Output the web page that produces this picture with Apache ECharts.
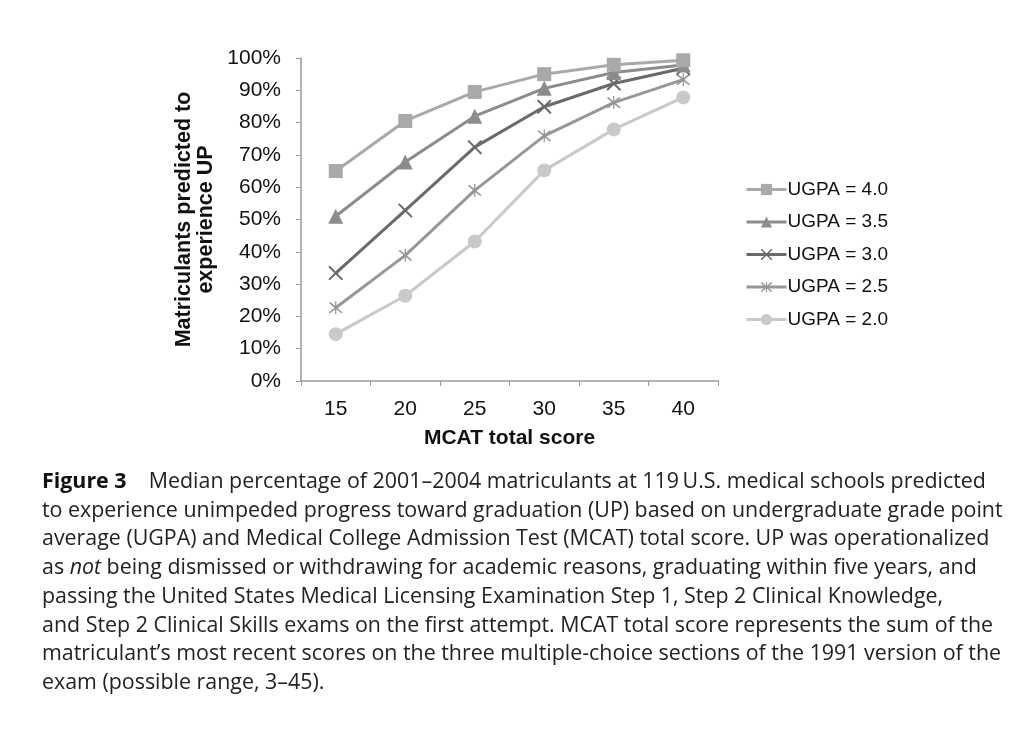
<!DOCTYPE html>
<html><head><meta charset="utf-8">
<script src="https://cdn.jsdelivr.net/npm/echarts@6/dist/echarts.min.js"></script>
<style>html,body{margin:0;padding:0;background:#fff}#c{width:1024px;height:744px}</style>
</head><body><div id="c"></div>
<script>
const categories = ['15', '20', '25', '30', '35', '40'];
const seriesNames = ['UGPA = 4.0', 'UGPA = 3.5', 'UGPA = 3.0', 'UGPA = 2.5', 'UGPA = 2.0'];
const ugpa40 = [65.0, 80.5, 89.5, 95.0, 97.9, 99.3];
const ugpa35 = [51.0, 67.8, 82.0, 90.6, 95.5, 97.8];
const ugpa30 = [33.4, 52.8, 72.4, 84.9, 92.1, 96.8];
const ugpa25 = [22.7, 38.9, 59.0, 75.9, 86.2, 93.3];
const ugpa20 = [14.5, 26.4, 43.2, 65.2, 77.9, 87.8];
const captionLines = [
  '{b|Figure 3}    Median percentage of 2001\u20132004 matriculants at 119\u2009U.S. medical schools predicted',
  'to experience unimpeded progress toward graduation (UP) based on undergraduate grade point',
  'average (UGPA) and Medical College Admission Test (MCAT) total score. UP was operationalized',
  'as {i|not} being dismissed or withdrawing for academic reasons, graduating within five years, and',
  'passing the United States Medical Licensing Examination Step 1, Step 2 Clinical Knowledge,',
  'and Step 2 Clinical Skills exams on the first attempt. MCAT total score represents the sum of the',
  'matriculant\u2019s most recent scores on the three multiple-choice sections of the 1991 version of the',
  'exam (possible range, 3\u201345).'
];

const xPath = 'path://M0,0 L2,0 L10,8 L18,0 L20,0 L20,2 L12,10 L20,18 L20,20 L18,20 L10,12 L2,20 L0,20 L0,18 L8,10 L0,2 Z';
const astPath = 'path://M0,0 L2,0 L10,8 L18,0 L20,0 L20,2 L12,10 L20,18 L20,20 L18,20 L10,12 L2,20 L0,20 L0,18 L8,10 L0,2 Z M9,-2 L11,-2 L11,22 L9,22 Z';
const styles = [
  {data: ugpa40, color: '#a9a9a9', symbol: 'rect', size: 14},
  {data: ugpa35, color: '#8c8c8c', symbol: 'triangle', size: 15},
  {data: ugpa30, color: '#6a6a6a', symbol: xPath, size: 14},
  {data: ugpa25, color: '#979797', symbol: astPath, size: 13},
  {data: ugpa20, color: '#c9c9c9', symbol: 'circle', size: 14}
];
const font = 'Liberation Sans, Arial, sans-serif';
const capFont = 'Open Sans, Noto Sans, sans-serif';
const capSize = 21.4;

const chart = echarts.init(document.getElementById('c'), null, {renderer: 'canvas'});
chart.setOption({
  animation: false,
  backgroundColor: '#fff',
  grid: {left: 301, right: 306, top: 58, bottom: 363, containLabel: false},
  legend: {
    orient: 'vertical', left: 745, top: 180, padding: 0,
    itemWidth: 40, itemHeight: 14, itemGap: 13.5,
    lineStyle: {width: 3},
    textStyle: {fontFamily: font, fontSize: 19, color: '#111', padding: [0,0,0,-4]},
    data: seriesNames
  },
  xAxis: {
    type: 'category', data: categories, boundaryGap: true,
    axisLine: {lineStyle: {color: '#9a9a9a', width: 1.5}},
    axisTick: {show: true, length: 5, lineStyle: {color: '#9a9a9a'}},
    axisLabel: {fontFamily: font, fontSize: 21, color: '#111', margin: 18},
    name: 'MCAT total score', nameLocation: 'middle', nameGap: 47,
    nameTextStyle: {fontFamily: font, fontSize: 21, fontWeight: 'bold', color: '#111'}
  },
  yAxis: {
    type: 'value', min: 0, max: 100, interval: 10,
    splitLine: {show: false},
    axisLine: {show: true, lineStyle: {color: '#9a9a9a', width: 1.5}},
    axisTick: {show: true, length: 5, lineStyle: {color: '#9a9a9a'}},
    axisLabel: {fontFamily: font, fontSize: 21, color: '#111', margin: 20, formatter: '{value}%'},
    name: 'Matriculants predicted to\nexperience UP', nameLocation: 'middle', nameGap: 84, nameRotate: 90,
    nameTextStyle: {fontFamily: font, fontSize: 21.5, fontWeight: 'bold', color: '#111', lineHeight: 22}
  },
  series: styles.map((s, i) => ({
    name: seriesNames[i], type: 'line', data: s.data,
    symbol: s.symbol, symbolSize: s.size,
    lineStyle: {color: s.color, width: 3},
    itemStyle: {color: s.color, borderColor: s.color, borderWidth: 0},
    z: 10 - i
  })),
  graphic: captionLines.map((t, i) => ({
    type: 'text', x: 42, y: 482 + i * 28.7,
    style: {
      text: t, fontFamily: capFont, fontSize: capSize, fill: '#222', verticalAlign: 'middle',
      rich: {
        b: {fontFamily: capFont, fontSize: capSize, fontWeight: 'bold', fill: '#111'},
        i: {fontFamily: capFont, fontSize: capSize, fontStyle: 'italic', fill: '#222'}
      }
    }
  }))
});
</script></body></html>
